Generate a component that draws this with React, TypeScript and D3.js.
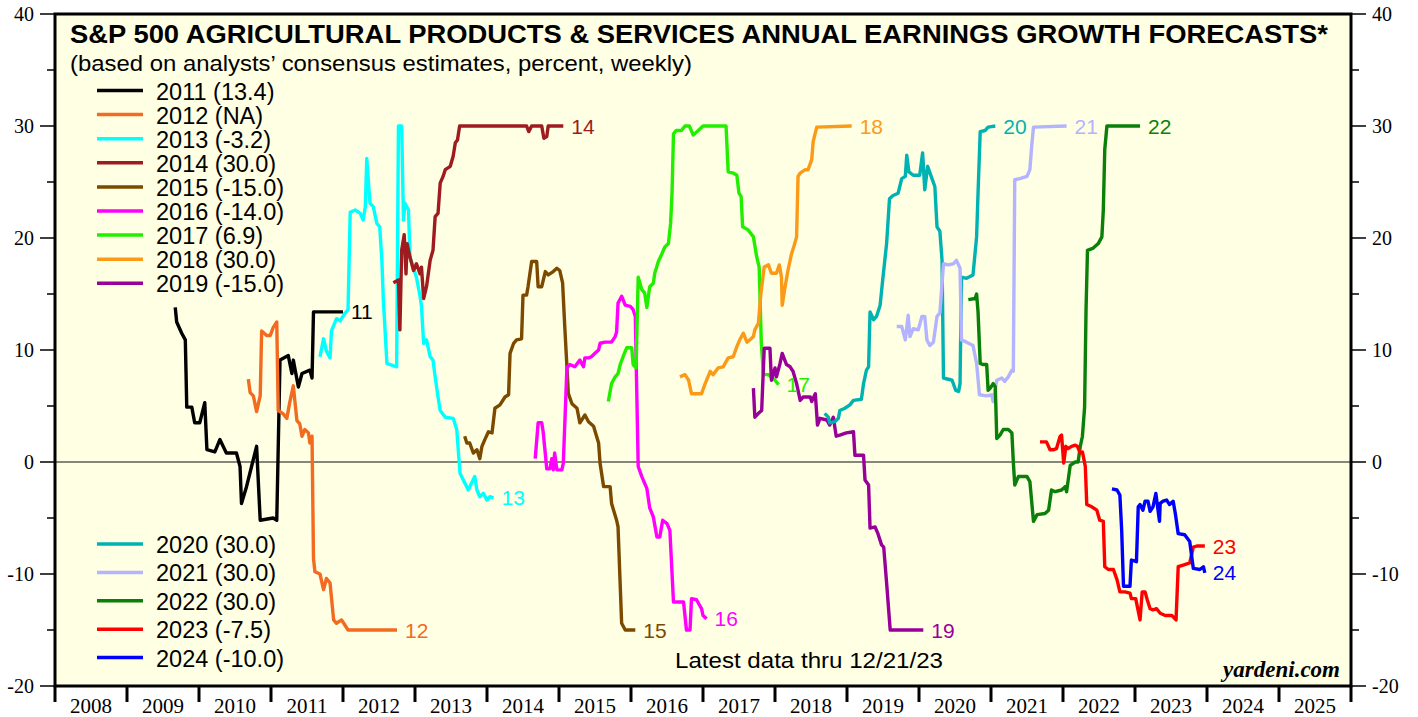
import React from "react";
import * as d3 from "d3";

type Pt = [number, number];

const s2011: Pt[] = [[2009.67,13.8],[2009.69,12.5],[2009.76,11.5],[2009.81,10.9],[2009.83,4.9],[2009.90,4.9],[2009.94,3.5],[2010.01,3.5],[2010.08,5.3],[2010.11,1.1],[2010.22,0.9],[2010.29,2.0],[2010.38,0.8],[2010.52,0.8],[2010.57,-0.4],[2010.59,-3.7],[2010.66,-2.2],[2010.73,-0.4],[2010.80,1.4],[2010.85,-5.2],[2011.03,-5.0],[2011.08,-5.2],[2011.125,9.1],[2011.24,9.5],[2011.29,7.9],[2011.31,9.1],[2011.38,6.7],[2011.43,7.9],[2011.54,8.2],[2011.57,7.5],[2011.59,13.4],[2012.00,13.4]];
const s2012: Pt[] = [[2010.685,7.4],[2010.71,6.2],[2010.755,5.9],[2010.80,4.5],[2010.85,5.9],[2010.87,11.7],[2010.94,11.3],[2010.99,11.3],[2011.03,12.0],[2011.08,12.5],[2011.10,4.6],[2011.17,4.3],[2011.22,3.9],[2011.26,5.3],[2011.31,6.8],[2011.36,3.7],[2011.40,3.4],[2011.43,2.3],[2011.47,2.9],[2011.52,2.6],[2011.54,1.7],[2011.57,2.3],[2011.59,-8.6],[2011.61,-9.8],[2011.68,-10.0],[2011.73,-11.4],[2011.77,-10.4],[2011.82,-10.8],[2011.87,-14.1],[2011.91,-14.4],[2011.98,-14.1],[2012.03,-14.6],[2012.07,-15.0],[2012.75,-15.0]];
const s2013: Pt[] = [[2011.68,9.4],[2011.73,11.0],[2011.77,9.9],[2011.82,9.3],[2011.84,11.7],[2011.91,12.8],[2011.96,12.6],[2012.03,13.3],[2012.07,13.6],[2012.10,22.3],[2012.17,22.5],[2012.24,22.2],[2012.28,21.6],[2012.31,22.8],[2012.33,27.1],[2012.375,23.1],[2012.42,22.8],[2012.47,21.3],[2012.51,21.0],[2012.54,18.0],[2012.56,14.5],[2012.61,8.8],[2012.745,8.5],[2012.77,30.0],[2012.815,30.0],[2012.84,21.6],[2012.86,23.1],[2012.91,22.5],[2012.93,18.3],[2013.02,16.5],[2013.07,14.8],[2013.09,13.9],[2013.12,10.6],[2013.16,10.9],[2013.21,9.4],[2013.25,9.1],[2013.28,7.6],[2013.32,5.8],[2013.35,4.6],[2013.42,4.0],[2013.53,3.9],[2013.58,2.9],[2013.625,-1.0],[2013.74,-2.5],[2013.83,-1.3],[2013.86,-2.5],[2013.90,-3.1],[2013.95,-2.8],[2014.00,-3.4],[2014.04,-3.1],[2014.09,-3.2]];
const s2014: Pt[] = [[2012.70,16.0],[2012.77,16.25],[2012.79,11.8],[2012.815,18.9],[2012.85,20.3],[2012.875,16.8],[2012.89,19.5],[2012.93,18.3],[2012.98,17.1],[2013.02,17.7],[2013.07,16.8],[2013.09,17.4],[2013.12,14.6],[2013.16,15.65],[2013.21,18.0],[2013.25,18.9],[2013.28,21.9],[2013.32,22.2],[2013.35,24.9],[2013.39,25.5],[2013.42,26.1],[2013.49,26.4],[2013.53,27.3],[2013.56,28.5],[2013.59,28.75],[2013.62,30.0],[2014.55,30.0],[2014.58,29.5],[2014.62,30.0],[2014.76,30.0],[2014.79,28.9],[2014.83,29.05],[2014.85,30.0],[2015.06,30.0]];
const s2015: Pt[] = [[2013.69,2.3],[2013.72,1.7],[2013.76,1.7],[2013.81,0.8],[2013.86,1.1],[2013.90,0.3],[2013.93,1.4],[2013.97,2.0],[2014.02,2.7],[2014.07,2.6],[2014.11,4.8],[2014.18,5.1],[2014.25,5.8],[2014.30,6.0],[2014.32,9.7],[2014.37,10.6],[2014.41,10.9],[2014.48,11.0],[2014.50,14.9],[2014.55,14.9],[2014.57,15.65],[2014.62,17.9],[2014.69,17.9],[2014.71,15.65],[2014.76,15.65],[2014.81,17.0],[2014.85,16.7],[2014.92,17.0],[2014.97,17.3],[2015.01,17.1],[2015.05,16.0],[2015.08,12.1],[2015.13,6.1],[2015.18,5.2],[2015.25,4.8],[2015.29,3.5],[2015.36,4.2],[2015.41,3.6],[2015.48,3.2],[2015.55,1.7],[2015.57,-0.1],[2015.62,-2.2],[2015.71,-2.2],[2015.73,-3.7],[2015.80,-5.2],[2015.82,-5.8],[2015.87,-14.4],[2015.92,-15.0],[2016.06,-15.0]];
const s2016: Pt[] = [[2014.67,0.3],[2014.71,3.5],[2014.76,3.5],[2014.78,2.7],[2014.83,-0.6],[2014.875,-0.6],[2014.90,0.3],[2014.92,-0.7],[2014.94,0.8],[2014.97,-0.7],[2015.04,-0.7],[2015.06,-0.1],[2015.11,8.4],[2015.15,8.7],[2015.22,8.5],[2015.29,9.1],[2015.34,8.5],[2015.36,9.3],[2015.41,9.3],[2015.45,9.4],[2015.50,9.7],[2015.55,10.0],[2015.57,10.6],[2015.64,10.7],[2015.73,10.7],[2015.78,11.2],[2015.80,11.6],[2015.82,14.2],[2015.87,14.8],[2015.92,14.0],[2015.99,13.9],[2016.03,13.6],[2016.06,13.0],[2016.10,-0.4],[2016.15,-1.3],[2016.22,-2.35],[2016.26,-4.1],[2016.31,-4.9],[2016.36,-6.7],[2016.40,-6.7],[2016.44,-5.2],[2016.50,-5.5],[2016.54,-6.1],[2016.59,-12.5],[2016.73,-12.5],[2016.77,-15.0],[2016.82,-15.0],[2016.84,-12.2],[2016.91,-12.3],[2016.98,-13.1],[2017.00,-13.7],[2017.05,-14.0]];
const s2017: Pt[] = [[2015.685,5.4],[2015.73,7.0],[2015.78,7.6],[2015.82,7.9],[2015.85,8.7],[2015.89,9.4],[2015.94,10.2],[2016.01,10.2],[2016.03,8.7],[2016.07,8.4],[2016.10,16.5],[2016.15,15.4],[2016.19,15.1],[2016.22,13.8],[2016.26,15.65],[2016.31,15.95],[2016.33,16.85],[2016.38,17.9],[2016.43,18.6],[2016.47,19.2],[2016.52,19.5],[2016.55,21.3],[2016.57,24.0],[2016.59,29.3],[2016.63,29.6],[2016.70,29.6],[2016.75,30.0],[2016.81,30.0],[2016.865,29.2],[2016.935,29.6],[2017.00,30.0],[2017.32,30.0],[2017.35,25.9],[2017.42,25.8],[2017.47,25.6],[2017.50,24.0],[2017.53,23.7],[2017.55,21.0],[2017.58,20.9],[2017.63,20.7],[2017.70,20.1],[2017.745,18.35],[2017.78,17.4],[2017.81,10.6],[2017.84,7.8],[2017.91,7.8],[2017.95,7.6],[2018.00,7.3],[2018.05,6.9]];
const s2018: Pt[] = [[2016.68,7.6],[2016.75,7.8],[2016.80,7.3],[2016.84,6.1],[2016.98,6.1],[2017.03,7.0],[2017.10,8.1],[2017.14,7.8],[2017.21,8.4],[2017.28,8.5],[2017.35,9.3],[2017.42,9.4],[2017.47,10.3],[2017.51,10.9],[2017.56,11.5],[2017.61,10.7],[2017.65,10.9],[2017.70,11.2],[2017.72,11.8],[2017.77,12.4],[2017.80,14.8],[2017.85,17.4],[2017.91,17.6],[2017.95,16.85],[2018.02,16.85],[2018.06,17.6],[2018.09,16.5],[2018.10,14.0],[2018.14,15.65],[2018.18,17.1],[2018.23,18.6],[2018.26,19.2],[2018.30,20.1],[2018.32,25.5],[2018.35,25.8],[2018.42,26.1],[2018.46,26.1],[2018.51,27.0],[2018.53,28.6],[2018.58,29.9],[2019.065,30.0]];
const s2019: Pt[] = [[2017.70,6.6],[2017.72,4.0],[2017.77,4.35],[2017.815,4.6],[2017.85,10.15],[2017.93,10.15],[2017.95,7.3],[2018.00,8.4],[2018.02,7.6],[2018.07,8.8],[2018.10,9.7],[2018.16,8.7],[2018.21,8.5],[2018.25,8.1],[2018.30,7.0],[2018.35,5.5],[2018.39,5.8],[2018.49,5.8],[2018.51,5.4],[2018.56,6.1],[2018.59,3.3],[2018.625,3.9],[2018.72,3.75],[2018.76,3.3],[2018.81,4.0],[2018.85,2.3],[2018.90,2.4],[2018.99,2.6],[2019.09,2.7],[2019.11,0.6],[2019.23,0.6],[2019.25,-1.6],[2019.30,-2.05],[2019.32,-5.9],[2019.39,-5.8],[2019.43,-6.4],[2019.48,-7.4],[2019.51,-7.6],[2019.55,-10.8],[2019.60,-15.0],[2020.06,-15.0]];
const s2020: Pt[] = [[2018.69,4.35],[2018.74,4.0],[2018.76,3.5],[2018.83,3.6],[2018.88,3.9],[2018.90,4.6],[2018.97,4.8],[2019.04,5.1],[2019.09,5.5],[2019.20,5.6],[2019.23,7.0],[2019.27,8.2],[2019.30,8.5],[2019.32,13.4],[2019.37,12.7],[2019.41,13.0],[2019.46,14.0],[2019.50,16.5],[2019.55,19.5],[2019.59,23.5],[2019.64,23.8],[2019.71,24.0],[2019.76,25.3],[2019.81,25.5],[2019.83,27.4],[2019.86,25.9],[2019.92,25.6],[2020.01,25.6],[2020.05,27.6],[2020.08,24.3],[2020.12,26.4],[2020.18,25.3],[2020.22,24.6],[2020.25,21.0],[2020.29,20.6],[2020.32,18.0],[2020.34,7.5],[2020.46,7.3],[2020.51,6.4],[2020.55,6.3],[2020.57,7.0],[2020.59,16.5],[2020.66,16.4],[2020.75,16.7],[2020.80,20.1],[2020.82,24.0],[2020.85,29.5],[2020.92,29.6],[2020.96,29.9],[2021.06,30.0]];
const s2021: Pt[] = [[2019.69,12.1],[2019.76,12.1],[2019.81,10.9],[2019.85,13.1],[2019.875,11.2],[2019.92,11.9],[2019.99,11.8],[2020.04,13.0],[2020.08,13.0],[2020.11,10.9],[2020.15,10.4],[2020.20,10.7],[2020.25,13.0],[2020.29,13.3],[2020.34,17.7],[2020.41,17.6],[2020.48,17.7],[2020.52,18.0],[2020.57,17.3],[2020.59,10.9],[2020.66,10.7],[2020.75,10.4],[2020.80,8.8],[2020.84,6.0],[2020.94,5.9],[2021.01,6.0],[2021.03,5.4],[2021.08,7.3],[2021.15,7.5],[2021.19,7.2],[2021.24,7.6],[2021.29,8.2],[2021.31,8.1],[2021.33,25.2],[2021.40,25.3],[2021.50,25.5],[2021.54,26.1],[2021.565,28.2],[2021.59,29.9],[2022.05,30.0]];
const s2022: Pt[] = [[2020.685,14.5],[2020.78,14.6],[2020.80,15.0],[2020.82,13.4],[2020.85,8.8],[2020.89,8.7],[2020.94,8.7],[2020.96,6.4],[2020.99,6.6],[2021.03,7.0],[2021.06,6.7],[2021.08,2.1],[2021.125,2.4],[2021.17,2.9],[2021.24,2.9],[2021.29,2.6],[2021.31,0.0],[2021.33,-2.05],[2021.38,-1.3],[2021.50,-1.3],[2021.54,-1.75],[2021.59,-5.3],[2021.64,-4.7],[2021.75,-4.6],[2021.80,-4.3],[2021.84,-2.5],[2021.89,-2.65],[2021.98,-2.5],[2022.03,-2.2],[2022.05,-2.65],[2022.10,-0.3],[2022.17,0.0],[2022.21,0.0],[2022.24,1.4],[2022.27,2.3],[2022.30,4.9],[2022.32,13.6],[2022.34,18.9],[2022.42,19.1],[2022.49,19.5],[2022.54,20.1],[2022.56,22.5],[2022.58,27.9],[2022.61,30.0],[2023.07,30.0]];
const s2023: Pt[] = [[2021.68,1.8],[2021.77,1.8],[2021.82,1.1],[2021.87,1.1],[2021.91,1.2],[2021.96,2.3],[2021.98,2.4],[2022.01,-0.1],[2022.04,1.4],[2022.07,1.2],[2022.12,1.4],[2022.17,1.5],[2022.20,1.4],[2022.24,0.8],[2022.27,0.9],[2022.31,-0.4],[2022.33,-3.8],[2022.40,-4.0],[2022.47,-4.3],[2022.51,-5.2],[2022.56,-5.3],[2022.58,-9.35],[2022.63,-9.6],[2022.70,-9.6],[2022.75,-10.5],[2022.79,-11.6],[2022.86,-11.6],[2022.93,-11.7],[2022.95,-12.2],[2023.01,-12.2],[2023.07,-14.1],[2023.10,-11.6],[2023.14,-11.6],[2023.17,-12.3],[2023.21,-13.1],[2023.25,-13.2],[2023.30,-13.1],[2023.35,-13.5],[2023.42,-13.7],[2023.51,-13.7],[2023.57,-14.1],[2023.60,-9.35],[2023.67,-9.2],[2023.76,-9.0],[2023.81,-7.6],[2023.86,-7.5],[2023.97,-7.5]];
const s2024: Pt[] = [[2022.68,-2.4],[2022.75,-2.5],[2022.79,-2.95],[2022.815,-6.1],[2022.84,-11.1],[2022.93,-11.1],[2022.95,-8.75],[2023.02,-8.9],[2023.045,-4.0],[2023.07,-3.8],[2023.11,-4.3],[2023.14,-3.5],[2023.18,-3.5],[2023.21,-4.4],[2023.25,-4.0],[2023.29,-2.8],[2023.32,-4.3],[2023.34,-5.3],[2023.35,-3.7],[2023.39,-3.5],[2023.44,-3.4],[2023.48,-3.8],[2023.53,-3.5],[2023.56,-4.6],[2023.60,-6.4],[2023.69,-6.5],[2023.76,-7.1],[2023.81,-9.5],[2023.90,-9.6],[2023.95,-9.35],[2023.97,-9.9]];

const seriesData: Pt[][] = [s2011, s2012, s2013, s2014, s2015, s2016, s2017, s2018, s2019, s2020, s2021, s2022, s2023, s2024];
const seriesNames = ["2011", "2012", "2013", "2014", "2015", "2016", "2017", "2018", "2019", "2020", "2021", "2022", "2023", "2024"];
const legendValues = ["13.4", "NA", "-3.2", "30.0", "-15.0", "-14.0", "6.9", "30.0", "-15.0", "30.0", "30.0", "30.0", "-7.5", "-10.0"];
const endLabels = ["11", "12", "13", "14", "15", "16", "17", "18", "19", "20", "21", "22", "23", "24"];
const colors = ["#000000", "#f26b21", "#00ffff", "#9e1b20", "#7b4a00", "#ff00ff", "#22ee00", "#fb9a16", "#990099", "#00b2b2", "#b3b3ff", "#0a7f0a", "#ff0000", "#0000ff"];

const yTicks = [40, 30, 20, 10, 0, -10, -20];
const yMinorTicks = [35, 25, 15, 5, -5, -15];
const yearLabels = [2008, 2009, 2010, 2011, 2012, 2013, 2014, 2015, 2016, 2017, 2018, 2019, 2020, 2021, 2022, 2023, 2024, 2025];

const SANS = "'Liberation Sans', Arial, Helvetica, sans-serif";
const SERIF = "'Liberation Serif', 'Times New Roman', serif";

export default function App() {
  const left = 55, right = 1351, top = 14, bottom = 686;
  const x = d3.scaleLinear().domain([2008, 2026]).range([left, right]);
  const y = d3.scaleLinear().domain([-20, 40]).range([bottom, top]);
  const line = d3.line<Pt>().x(d => x(d[0])).y(d => y(d[1]));
  const yearBounds = d3.range(2008, 2027);

  return (
    <svg width={1418} height={717} style={{ position: "absolute", left: 0, top: 0, display: "block", background: "#ffffff" }}>
      <rect x={left} y={top} width={right - left} height={bottom - top} fill="#ffffe3" />
      <line x1={left} x2={right} y1={y(0)} y2={y(0)} stroke="#111" strokeWidth={1.1} />

      {seriesData.map((s, i) => (
        <path key={seriesNames[i]} d={line(s) || ""} fill="none" stroke={colors[i]} strokeWidth={3.4} strokeLinejoin="round" strokeLinecap="butt" />
      ))}

      {seriesData.map((s, i) => {
        const last = s[s.length - 1];
        return (
          <text key={"e" + i} x={x(last[0]) + 8} y={y(last[1]) + 7.5} fontFamily={SANS} fontSize={21} fill={colors[i]}>
            {endLabels[i]}
          </text>
        );
      })}

      {/* frame */}
      <rect x={left} y={top} width={right - left} height={bottom - top} fill="none" stroke="#000" strokeWidth={3} />

      {/* y axis ticks */}
      {yTicks.map(v => (
        <g key={"yt" + v}>
          <line x1={40} x2={left} y1={y(v)} y2={y(v)} stroke="#000" strokeWidth={1.5} />
          <line x1={right} x2={1366} y1={y(v)} y2={y(v)} stroke="#000" strokeWidth={1.5} />
          <text x={34} y={y(v) + 7} textAnchor="end" fontFamily={SERIF} fontSize={20} fill="#000">{v}</text>
          <text x={1372} y={y(v) + 7} textAnchor="start" fontFamily={SERIF} fontSize={20} fill="#000">{v}</text>
        </g>
      ))}
      {yMinorTicks.map(v => (
        <g key={"ym" + v}>
          <line x1={47} x2={left} y1={y(v)} y2={y(v)} stroke="#000" strokeWidth={1.5} />
          <line x1={right} x2={1359} y1={y(v)} y2={y(v)} stroke="#000" strokeWidth={1.5} />
        </g>
      ))}

      {/* x axis */}
      {yearBounds.map(yr => (
        <line key={"xt" + yr} x1={x(yr)} x2={x(yr)} y1={bottom} y2={702} stroke="#000" strokeWidth={3} />
      ))}
      {yearLabels.map(yr => (
        <text key={"xl" + yr} x={x(yr + 0.5)} y={713} textAnchor="middle" fontFamily={SERIF} fontSize={21} fill="#000">{yr}</text>
      ))}

      {/* title */}
      <text x={70} y={43} fontFamily={SANS} fontWeight="bold" fontSize={25.5} textLength={1258} lengthAdjust="spacingAndGlyphs" fill="#000">
        S&amp;P 500 AGRICULTURAL PRODUCTS &amp; SERVICES ANNUAL EARNINGS GROWTH FORECASTS*
      </text>
      <text x={70} y={71} fontFamily={SANS} fontSize={22} textLength={622} lengthAdjust="spacingAndGlyphs" fill="#000">
        (based on analysts’ consensus estimates, percent, weekly)
      </text>

      {/* legends */}
      {seriesNames.map((n, i) => {
        const ly = i < 9 ? 90.5 + i * 24.1 : 544 + (i - 9) * 28.4;
        return (
          <g key={"lg" + n}>
            <line x1={97} x2={143} y1={ly} y2={ly} stroke={colors[i]} strokeWidth={3.5} />
            <text x={156} y={ly + 9} fontFamily={SANS} fontSize={23.5} fill="#000">{`${n} (${legendValues[i]})`}</text>
          </g>
        );
      })}

      <text x={675} y={668} fontFamily={SANS} fontSize={22.5} textLength={268} lengthAdjust="spacingAndGlyphs" fill="#000">Latest data thru  12/21/23</text>
      <text x={1340} y={677} textAnchor="end" fontFamily={SERIF} fontStyle="italic" fontWeight="bold" fontSize={23} fill="#000">yardeni.com</text>
    </svg>
  );
}
